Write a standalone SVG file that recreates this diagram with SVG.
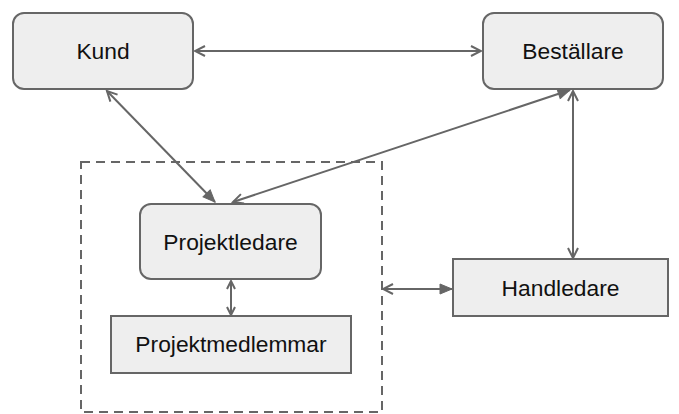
<svg xmlns="http://www.w3.org/2000/svg" width="679" height="414" viewBox="0 0 679 414">
<style>
.box{fill:#eeeeee;stroke:#666666;stroke-width:2}
.lbl{font-family:"Liberation Sans",Arial,sans-serif;font-size:22.8px;fill:#111111;text-anchor:middle}
.c{stroke:#666666;stroke-width:2;fill:none}
</style>
<defs>
<marker id="open" viewBox="-2 -2 14 14" refX="10" refY="5" markerWidth="14" markerHeight="14" markerUnits="userSpaceOnUse" orient="auto-start-reverse">
<path d="M0,0 L10,5 L0,10" fill="none" stroke="#666666" stroke-width="2"/>
</marker>
<marker id="fill" viewBox="-1 -1 14 12" refX="12" refY="5" markerWidth="14" markerHeight="12" markerUnits="userSpaceOnUse" orient="auto-start-reverse">
<path d="M0,0 L12,5 L0,10 z" fill="#666666" stroke="#666666" stroke-width="1"/>
</marker>
<marker id="small" viewBox="-2 -2 12 12" refX="8" refY="4" markerWidth="12" markerHeight="12" markerUnits="userSpaceOnUse" orient="auto-start-reverse">
<path d="M0,0 L8,4 L0,8" fill="none" stroke="#666666" stroke-width="2"/>
</marker>
</defs>
<rect x="81" y="162" width="301" height="250" fill="none" stroke="#666666" stroke-width="2" stroke-dasharray="9,6"/>
<g id="kund"><rect class="box" x="13" y="13" width="180" height="76" rx="11"/><text class="lbl" x="103" y="59">Kund</text></g>
<g id="bestallare"><rect class="box" x="483" y="13" width="180" height="76" rx="11"/><text class="lbl" x="573" y="59">Beställare</text></g>
<g id="projektledare"><rect class="box" x="140" y="204" width="181" height="75" rx="11"/><text class="lbl" x="230.5" y="250">Projektledare</text></g>
<g id="projektmedlemmar"><rect class="box" x="111" y="316" width="240" height="57"/><text class="lbl" x="231" y="352">Projektmedlemmar</text></g>
<g id="handledare"><rect class="box" x="453" y="259" width="215" height="57"/><text class="lbl" x="560.5" y="296">Handledare</text></g>
<g id="connectors">
<line class="c" x1="195" y1="51" x2="481" y2="51" marker-start="url(#open)" marker-end="url(#open)"/>
<line class="c" x1="107" y1="91" x2="215" y2="202" marker-start="url(#open)" marker-end="url(#fill)"/>
<line class="c" x1="570" y1="90" x2="233" y2="202" marker-start="url(#fill)" marker-end="url(#open)"/>
<line class="c" x1="573" y1="91" x2="573" y2="258" marker-start="url(#open)" marker-end="url(#open)"/>
<line class="c" x1="383" y1="289" x2="452" y2="289" marker-start="url(#open)" marker-end="url(#fill)"/>
<line class="c" x1="231" y1="281" x2="231" y2="315" marker-start="url(#small)" marker-end="url(#small)"/>
</g>
</svg>
